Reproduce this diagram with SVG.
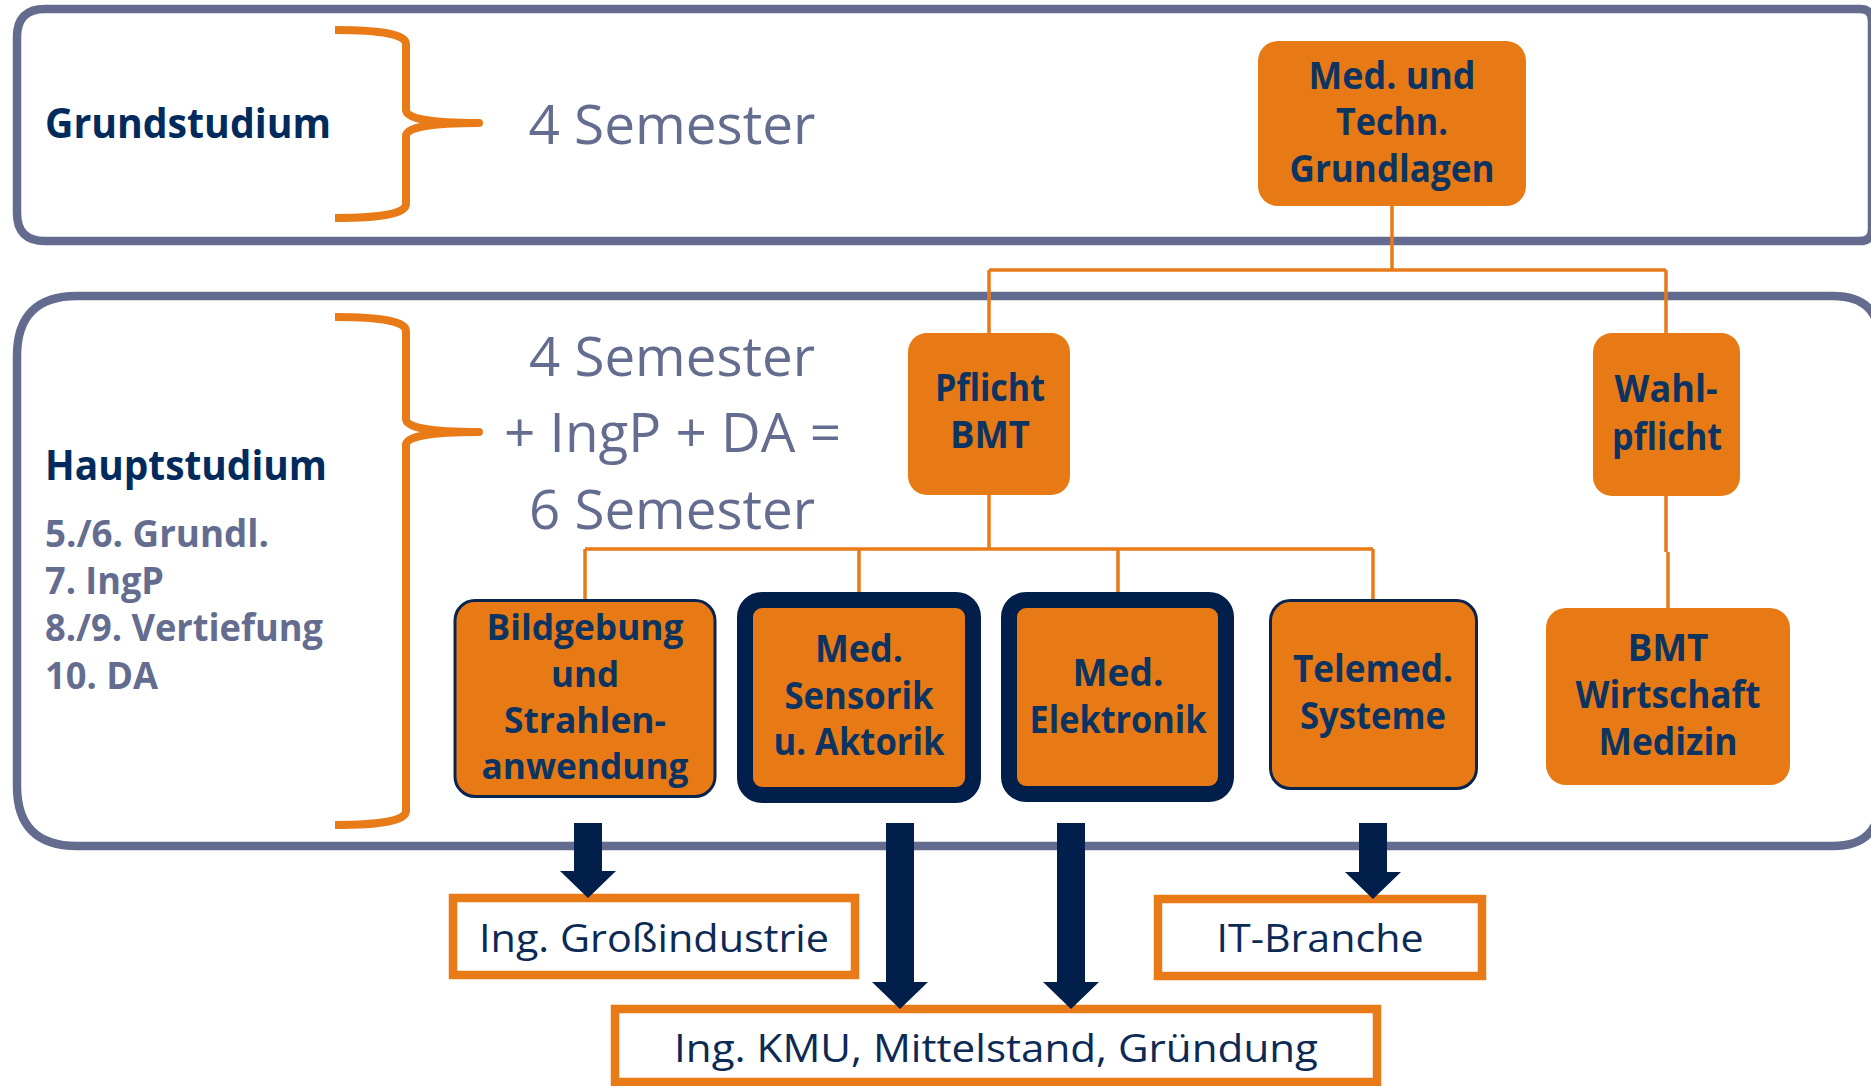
<svg xmlns="http://www.w3.org/2000/svg" width="1871" height="1086" viewBox="0 0 1871 1086">
<style>
.frame{fill:none;stroke:#636b8f;stroke-width:8.5}
.brace{fill:none;stroke:#e87b17;stroke-width:8;stroke-linejoin:round}
.con{fill:none;stroke:#e87b17;stroke-width:3.5}
.box{fill:#e87a16}
.thin{fill:#e87a16;stroke:#0a2450;stroke-width:3}
.thick{fill:#e87a16;stroke:#021f4b;stroke-width:16}
.out{fill:#ffffff;stroke:#e87b17;stroke-width:8.5}
.arrow{fill:#021f4b}
.bt{font-family:"Open Sans","Liberation Sans",sans-serif;font-weight:700;font-size:37px;fill:#0d3461;text-anchor:middle}
.bt4{font-size:35px}
.head{font-family:"Open Sans","Liberation Sans",sans-serif;font-weight:700;font-size:41px;fill:#002b5c}
.list{font-family:"Open Sans","Liberation Sans",sans-serif;font-weight:700;font-size:38px;fill:#646c8f}
.sem{font-family:"Open Sans","Liberation Sans",sans-serif;font-weight:400;font-size:55px;fill:#646c8f;text-anchor:middle}
.ot{font-family:"Open Sans","Liberation Sans",sans-serif;font-weight:400;font-size:39px;fill:#0d2a55;text-anchor:middle}
</style>

<!-- frames -->
<g id="frames">
  <path class="frame" d="M45 9 H1860 Q1872 9 1872 21 V229 Q1872 241 1860 241 H45 Q17 241 17 213 V37 Q17 9 45 9 Z"/>
  <path class="frame" d="M77 296 H1833 Q1880 296 1880 343 V799 Q1880 846 1833 846 H77 Q17 846 17 786 V356 Q17 296 77 296 Z"/>
</g>

<!-- braces and left labels -->
<g id="grundstudium-label">
  <path class="brace" d="M335 30 Q406 30 406 44 L406 110 Q406 123 479 123 Q406 123 406 136 L406 204 Q406 218 335 218"/>
  <text class="head" x="45" y="138" textLength="286" lengthAdjust="spacingAndGlyphs">Grundstudium</text>
  <text class="sem" x="672" y="144" textLength="287" lengthAdjust="spacingAndGlyphs">4 Semester</text>
</g>
<g id="hauptstudium-label">
  <path class="brace" d="M335 317 Q406 317 406 331 L406 419 Q406 432 479 432 Q406 432 406 445 L406 811 Q406 825 335 825"/>
  <text class="head" x="45" y="480" textLength="282" lengthAdjust="spacingAndGlyphs">Hauptstudium</text>
  <text class="list" x="45" y="547" textLength="224" lengthAdjust="spacingAndGlyphs">5./6. Grundl.</text>
  <text class="list" x="45" y="594" textLength="119" lengthAdjust="spacingAndGlyphs">7. IngP</text>
  <text class="list" x="45" y="641" textLength="278" lengthAdjust="spacingAndGlyphs">8./9. Vertiefung</text>
  <text class="list" x="45" y="689" textLength="113" lengthAdjust="spacingAndGlyphs">10. DA</text>
  <text class="sem" x="672" y="376" textLength="286" lengthAdjust="spacingAndGlyphs">4 Semester</text>
  <text class="sem" x="672.5" y="452" textLength="337" lengthAdjust="spacingAndGlyphs">+ IngP + DA =</text>
  <text class="sem" x="672" y="529" textLength="286" lengthAdjust="spacingAndGlyphs">6 Semester</text>
</g>

<!-- connectors -->
<g id="connectors">
  <path class="con" d="M1392 206 V270 M989 270 H1666 M989 270 V333 M1666 270 V333"/>
  <path class="con" d="M989 495 V549 M585 549 H1373 M585 549 V599 M859 549 V592 M1118 549 V592 M1373 549 V599"/>
  <path class="con" d="M1666 496 V552 M1668 552 V608"/>
</g>

<!-- nodes -->
<g id="node-grundlagen">
  <rect class="box" x="1258" y="41" width="268" height="165" rx="20"/>
  <text class="bt" x="1392" y="89" textLength="167" lengthAdjust="spacingAndGlyphs">Med. und</text>
  <text class="bt" x="1392" y="135" textLength="112" lengthAdjust="spacingAndGlyphs">Techn.</text>
  <text class="bt" x="1392" y="182" textLength="205" lengthAdjust="spacingAndGlyphs">Grundlagen</text>
</g>
<g id="node-pflicht">
  <rect class="box" x="908" y="333" width="162" height="162" rx="19"/>
  <text class="bt" x="990" y="401" textLength="110" lengthAdjust="spacingAndGlyphs">Pflicht</text>
  <text class="bt" x="990" y="448" textLength="80" lengthAdjust="spacingAndGlyphs">BMT</text>
</g>
<g id="node-wahlpflicht">
  <rect class="box" x="1593" y="333" width="147" height="163" rx="19"/>
  <text class="bt" x="1666" y="402" textLength="103" lengthAdjust="spacingAndGlyphs">Wahl-</text>
  <text class="bt" x="1667" y="450" textLength="110" lengthAdjust="spacingAndGlyphs">pflicht</text>
</g>
<g id="node-bmt-wirtschaft">
  <rect class="box" x="1546" y="608" width="244" height="177" rx="20"/>
  <text class="bt" x="1668" y="661" textLength="81" lengthAdjust="spacingAndGlyphs">BMT</text>
  <text class="bt" x="1668" y="708" textLength="185" lengthAdjust="spacingAndGlyphs">Wirtschaft</text>
  <text class="bt" x="1668" y="755" textLength="139" lengthAdjust="spacingAndGlyphs">Medizin</text>
</g>
<g id="node-bildgebung">
  <rect class="thin" x="455" y="600.5" width="260" height="196" rx="20"/>
  <text class="bt bt4" x="585" y="640" textLength="197" lengthAdjust="spacingAndGlyphs">Bildgebung</text>
  <text class="bt bt4" x="585" y="687" textLength="68" lengthAdjust="spacingAndGlyphs">und</text>
  <text class="bt bt4" x="585" y="733" textLength="162" lengthAdjust="spacingAndGlyphs">Strahlen-</text>
  <text class="bt bt4" x="585" y="779" textLength="207" lengthAdjust="spacingAndGlyphs">anwendung</text>
</g>
<g id="node-sensorik">
  <rect class="thick" x="745" y="600" width="228" height="195" rx="17"/>
  <text class="bt" x="859" y="662" textLength="88" lengthAdjust="spacingAndGlyphs">Med.</text>
  <text class="bt" x="859" y="709" textLength="149" lengthAdjust="spacingAndGlyphs">Sensorik</text>
  <text class="bt" x="859" y="755" textLength="171" lengthAdjust="spacingAndGlyphs">u. Aktorik</text>
</g>
<g id="node-elektronik">
  <rect class="thick" x="1009" y="600" width="217" height="194" rx="17"/>
  <text class="bt" x="1118" y="686" textLength="91" lengthAdjust="spacingAndGlyphs">Med.</text>
  <text class="bt" x="1118" y="733" textLength="177" lengthAdjust="spacingAndGlyphs">Elektronik</text>
</g>
<g id="node-telemed">
  <rect class="thin" x="1270.5" y="600.5" width="206" height="188" rx="20"/>
  <text class="bt" x="1373" y="682" textLength="160" lengthAdjust="spacingAndGlyphs">Telemed.</text>
  <text class="bt" x="1373" y="729" textLength="146" lengthAdjust="spacingAndGlyphs">Systeme</text>
</g>

<g id="node-grossindustrie">
  <rect class="out" x="453" y="898" width="402" height="77"/>
  <text class="ot" x="654" y="952" textLength="350" lengthAdjust="spacingAndGlyphs">Ing. Großindustrie</text>
</g>
<g id="node-it-branche">
  <rect class="out" x="1158" y="899" width="324" height="77"/>
  <text class="ot" x="1320" y="952" textLength="207" lengthAdjust="spacingAndGlyphs">IT-Branche</text>
</g>
<g id="node-kmu">
  <rect class="out" x="615" y="1009" width="762" height="73"/>
  <text class="ot" x="996" y="1062" textLength="644" lengthAdjust="spacingAndGlyphs">Ing. KMU, Mittelstand, Gründung</text>
</g>

<!-- big arrows -->
<g id="arrows">
  <polygon class="arrow" points="574,823 602,823 602,871 616,871 588,898 560,871 574,871"/>
  <polygon class="arrow" points="886,823 914,823 914,982 928,982 900,1009 872,982 886,982"/>
  <polygon class="arrow" points="1057,823 1085,823 1085,982 1099,982 1071,1009 1043,982 1057,982"/>
  <polygon class="arrow" points="1359,823 1387,823 1387,872 1401,872 1373,899 1345,872 1359,872"/>
</g>
</svg>
